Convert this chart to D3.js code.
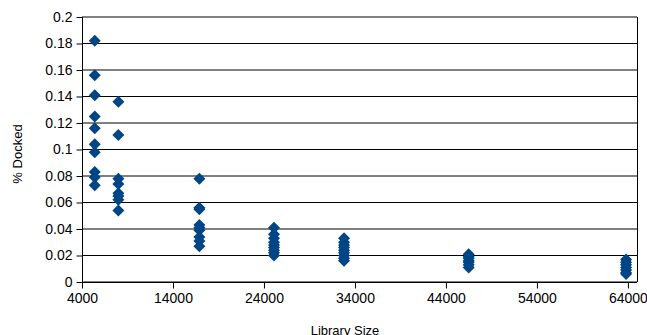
<!DOCTYPE html>
<html>
<head>
<meta charset="utf-8">
<script src="https://cdn.jsdelivr.net/npm/d3@7"></script>
<style>
  html, body { margin: 0; padding: 0; background: #fff; }
  svg { display: block; font-family: "Liberation Sans", Arial, sans-serif; }
</style>
</head>
<body>
<div id="chart"></div>
<script>
// Data: library size (x) and fraction docked (y)
const librarySizes = [5400, 8000, 16900, 25100, 32800, 46500, 63800];
const dockedValues = [
  [0.182, 0.156, 0.141, 0.125, 0.116, 0.104, 0.098, 0.083, 0.079, 0.073],
  [0.136, 0.111, 0.078, 0.074, 0.067, 0.065, 0.062, 0.054],
  [0.078, 0.056, 0.055, 0.043, 0.041, 0.039, 0.034, 0.031, 0.027],
  [0.041, 0.036, 0.033, 0.030, 0.028, 0.026, 0.024, 0.022, 0.020],
  [0.033, 0.030, 0.028, 0.026, 0.024, 0.022, 0.020, 0.018, 0.016],
  [0.021, 0.019, 0.018, 0.016, 0.015, 0.013, 0.011],
  [0.017, 0.015, 0.013, 0.011, 0.009, 0.007, 0.006]
];
const xTicks = [4000, 14000, 24000, 34000, 44000, 54000, 64000];
const yTicks = [0, 0.02, 0.04, 0.06, 0.08, 0.1, 0.12, 0.14, 0.16, 0.18, 0.2];
const xTitle = "Library Size";
const yTitle = "% Docked";

(function () {
const points = [];
librarySizes.forEach((s, i) => dockedValues[i].forEach(v => points.push({x: s, y: v})));

const W = 647, H = 335;
const pL = 82, pR = 637, pT = 17, pB = 282;

const svg = d3.select("#chart").append("svg").attr("width", W).attr("height", H);

const x = d3.scaleLinear().domain([4000, 65000]).range([pL, pR]);
const y = d3.scaleLinear().domain([0, 0.2]).range([pB, pT]);

// gridlines
svg.append("g").selectAll("line").data(yTicks).join("line")
  .attr("x1", pL).attr("x2", pR)
  .attr("y1", d => y(d)).attr("y2", d => y(d))
  .attr("stroke", "#000").attr("stroke-width", 1);

// right border
svg.append("line").attr("x1", pR + 0.5).attr("x2", pR + 0.5)
  .attr("y1", pT).attr("y2", pB).attr("stroke", "#000");

// Y axis
const yAxis = d3.axisLeft(y).tickValues(yTicks).tickSize(6).tickPadding(4)
  .tickFormat(d => d === 0 ? "0" : String(+d.toFixed(2)));
const gy = svg.append("g").attr("transform", `translate(${pL + 0.5},0)`).call(yAxis);
gy.select(".domain").attr("d", `M0,${pT}V${pB + 6}`).attr("stroke", "#000");
gy.selectAll(".tick line").attr("stroke", "#000");
gy.selectAll(".tick text").attr("font-size", 14).attr("fill", "#000")
  .attr("font-family", "Liberation Sans, Arial, sans-serif");

// X axis
const xAxis = d3.axisBottom(x).tickValues(xTicks).tickSize(6).tickPadding(5)
  .tickFormat(d3.format("d"));
const gx = svg.append("g").attr("transform", `translate(0,${pB + 0.5})`).call(xAxis);
gx.select(".domain").attr("d", `M${pL},0H${pR}`).attr("stroke", "#000");
gx.selectAll(".tick line").attr("stroke", "#000");
gx.selectAll(".tick text").attr("font-size", 14).attr("fill", "#000")
  .attr("font-family", "Liberation Sans, Arial, sans-serif");

// points (diamonds)
const r = 6;
svg.append("g").selectAll("path").data(points).join("path")
  .attr("d", `M0,${-r}L${r},0L0,${r}L${-r},0Z`)
  .attr("transform", d => `translate(${x(d.x)},${y(d.y)})`)
  .attr("fill", "#004586");

// titles
svg.append("text").attr("x", 345).attr("y", 335).attr("text-anchor", "middle")
  .attr("font-size", 13).attr("fill", "#000").text(xTitle);
svg.append("text").attr("transform", "translate(22,154) rotate(-90)")
  .attr("text-anchor", "middle").attr("font-size", 13).attr("fill", "#000").text(yTitle);
})();
</script>
</body>
</html>
